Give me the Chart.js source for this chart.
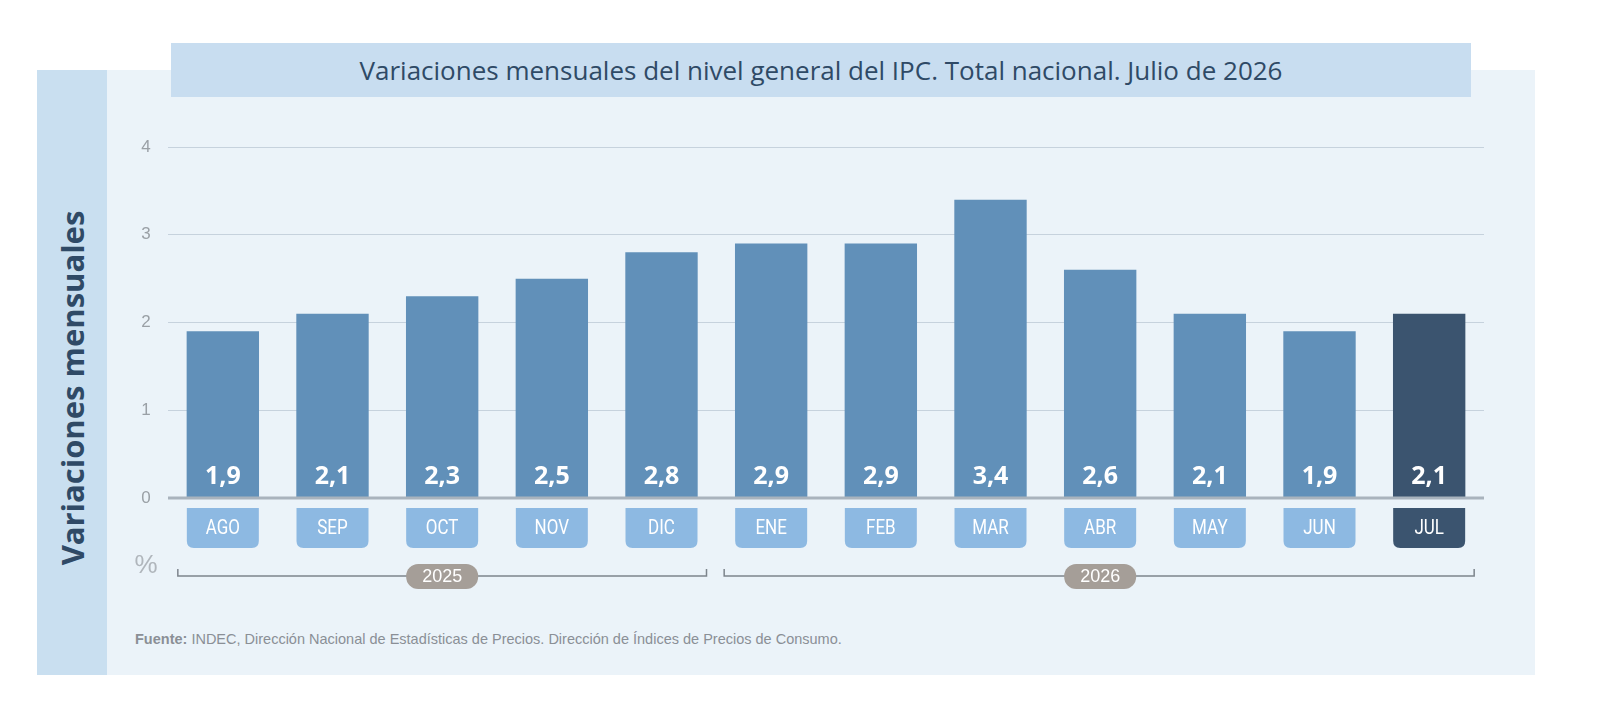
<!DOCTYPE html>
<html><head><meta charset="utf-8">
<script src="https://cdn.jsdelivr.net/npm/chart.js@4/dist/chart.umd.min.js"></script>
<style>
body{margin:0;background:#fff;font-family:"Open Sans",sans-serif;}
#wrap{position:relative;width:1600px;height:718px;}
#panel{position:absolute;left:37px;top:70px;width:1498px;height:605px;background:#ebf3f9;}
#band{position:absolute;left:37px;top:70px;width:70px;height:605px;background:#c9dff0;}
#vt{position:absolute;left:72px;top:388px;transform:translate(-50%,-50%) rotate(-90deg);white-space:nowrap;font:bold 31px "Open Sans",sans-serif;color:#2f4a66;}
#title{position:absolute;left:171px;top:43px;width:1300px;height:54px;background:#c8ddf0;color:#2f4a66;font:500 26px "Open Sans",sans-serif;text-align:center;line-height:54px;}
#src{position:absolute;left:135px;top:631px;font:14.5px "Liberation Sans",sans-serif;color:#8a8f96;}
#cv{position:absolute;left:0;top:0;}
</style></head><body>
<div id="wrap">
<div id="panel"></div><div id="band"></div>
<div id="vt">Variaciones mensuales</div>
<div id="title">Variaciones mensuales del nivel general del IPC. Total nacional. Julio de 2026</div>
<div id="src"><b>Fuente:</b> INDEC, Dirección Nacional de Estadísticas de Precios. Dirección de Índices de Precios de Consumo.</div>
<canvas id="cv" width="1600" height="718"></canvas>
</div>
<script>
const months = ['AGO','SEP','OCT','NOV','DIC','ENE','FEB','MAR','ABR','MAY','JUN','JUL'];
const values = [1.9,2.1,2.3,2.5,2.8,2.9,2.9,3.4,2.6,2.1,1.9,2.1];
const yTicks = [0,1,2,3,4];
const years = [{label:'2025',from:0,to:4},{label:'2026',from:5,to:11}];

const barColors = values.map((v,i)=> i===values.length-1 ? '#3b546f' : '#6190b9');

function rr(ctx,x,y,w,h,r){ctx.beginPath();ctx.moveTo(x,y);ctx.lineTo(x+w,y);ctx.lineTo(x+w,y+h-r);ctx.quadraticCurveTo(x+w,y+h,x+w-r,y+h);ctx.lineTo(x+r,y+h);ctx.quadraticCurveTo(x,y+h,x,y+h-r);ctx.closePath();}

const deco = {
  id:'deco',
  afterDraw(chart){
    const ctx = chart.ctx, xs = chart.scales.x, ys = chart.scales.y;
    const meta = chart.getDatasetMeta(0);
    ctx.save();
    // y tick labels
    ctx.fillStyle='#9aa0a6'; ctx.font='17px "Liberation Sans"'; ctx.textAlign='center'; ctx.textBaseline='middle';
    yTicks.forEach(t=>ctx.fillText(String(t),146,ys.getPixelForValue(t)));
    ctx.font='26px "Liberation Sans"'; ctx.fillStyle='#b0b6bc'; ctx.fillText('%',146,566);
    // zero line
    ctx.strokeStyle='#a9b3bd'; ctx.lineWidth=3;
    const y0=ys.getPixelForValue(0);
    ctx.beginPath(); ctx.moveTo(chart.chartArea.left,y0); ctx.lineTo(chart.chartArea.right,y0); ctx.stroke();
    // values and month boxes
    meta.data.forEach((bar,i)=>{
      ctx.fillStyle='#fff'; ctx.font='bold 25px "Open Sans"'; ctx.textAlign='center'; ctx.textBaseline='middle';
      ctx.fillText(values[i].toFixed(1).replace('.',','),bar.x,477);
      ctx.fillStyle = i===values.length-1 ? '#3b546f' : '#8db9e2';
      rr(ctx,bar.x-36,508,72,40,7); ctx.fill();
      ctx.fillStyle='#fff'; ctx.font='20px "Roboto"';
      ctx.save(); ctx.translate(bar.x,529); ctx.scale(0.85,1); ctx.fillText(months[i],0,0); ctx.restore();
    });
    // year brackets
    years.forEach((yr,k)=>{
      const x1 = xs.getPixelForValue(yr.from)-45 + (k?-2:0), x2 = xs.getPixelForValue(yr.to)+45;
      ctx.strokeStyle='#7d858c'; ctx.lineWidth=1.5;
      ctx.beginPath(); ctx.moveTo(x1,569); ctx.lineTo(x1,576); ctx.lineTo(x2,576); ctx.lineTo(x2,569); ctx.stroke();
      const cx = k===0 ? xs.getPixelForValue(2) : xs.getPixelForValue(8);
      ctx.fillStyle='#a59e98'; ctx.beginPath(); ctx.roundRect(cx-36,564,72,25,12); ctx.fill();
      ctx.fillStyle='#fff'; ctx.font='18px "Liberation Sans"'; ctx.fillText(yr.label,cx,577);
    });
    ctx.restore();
  }
};

new Chart(document.getElementById('cv').getContext('2d'),{
  type:'bar',
  data:{labels:months,datasets:[{data:values,backgroundColor:barColors,barPercentage:0.66,categoryPercentage:1}]},
  options:{
    responsive:false,animation:false,
    layout:{padding:{left:168,right:116,top:147,bottom:220}},
    plugins:{legend:{display:false},tooltip:{enabled:false}},
    scales:{
      x:{display:false},
      y:{min:0,max:4,afterFit(s){s.width=0;},
         ticks:{display:false,stepSize:1},border:{display:false},
         grid:{color:'#c6d2dd',lineWidth:1,drawTicks:false}}
    }
  },
  plugins:[deco]
});
</script>
</body></html>
